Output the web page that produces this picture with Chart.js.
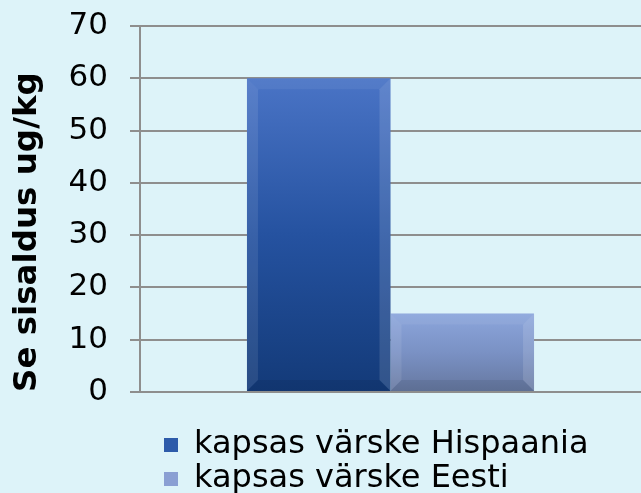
<!DOCTYPE html>
<html><head><meta charset="utf-8">
<script src="https://cdn.jsdelivr.net/npm/chart.js@4/dist/chart.umd.min.js"></script>
<style>html,body{margin:0;padding:0;background:#DDF3F9;} canvas{display:block}</style>
</head><body>
<canvas id="c" width="641" height="493"></canvas>
<script>
// ---- data ----
const categories = [''];
const seriesNames = ['kapsas värske Hispaania', 'kapsas värske Eesti'];
const hispaaniaValues = [60];
const eestiValues = [15];
const yTicks = [0, 10, 20, 30, 40, 50, 60, 70];
const axisTitle = 'Se sisaldus ug/kg';

// ---- styles ----
const FONT = 'DejaVu Sans';
const barGradients = [
  ['#4A74C6', '#2552A0', '#133A78'],
  ['#8CA6DC', '#7A91C4', '#65779F']
];
const legendColors = ['#2D5BAA', '#8A9FD3'];
const gridColor = '#8E8E8E';

function gradientFor(i) {
  return (ctx) => {
    const chart = ctx.chart;
    const ys = chart.scales && chart.scales.y;
    if (!chart.chartArea || !ys || ctx.raw === undefined) return barGradients[i][1];
    const top = ys.getPixelForValue(ctx.raw);
    const bottom = ys.getPixelForValue(0);
    const g = chart.ctx.createLinearGradient(0, top, 0, bottom);
    g.addColorStop(0, barGradients[i][0]);
    g.addColorStop(0.5, barGradients[i][1]);
    g.addColorStop(1, barGradients[i][2]);
    return g;
  };
}

const bevelPlugin = {
  id: 'bevel',
  afterDatasetsDraw(chart) {
    const c = chart.ctx;
    chart.data.datasets.forEach((ds, di) => {
      const meta = chart.getDatasetMeta(di);
      meta.data.forEach(el => {
        const p = el.getProps(['x', 'y', 'base', 'width'], true);
        const l = p.x - p.width / 2, r = p.x + p.width / 2, t = p.y, b = p.base;
        const s = 11;
        const poly = (pts, fill) => {
          c.beginPath(); c.moveTo(pts[0][0], pts[0][1]);
          for (let k = 1; k < pts.length; k++) c.lineTo(pts[k][0], pts[k][1]);
          c.closePath(); c.fillStyle = fill; c.fill();
        };
        c.save();
        poly([[l, t], [l + s, t + s], [l + s, b - s], [l, b]], 'rgba(255,255,255,0.09)');
        poly([[r, t], [r - s, t + s], [r - s, b - s], [r, b]], 'rgba(255,255,255,0.13)');
        poly([[l, t], [r, t], [r - s, t + s], [l + s, t + s]], 'rgba(255,255,255,0.06)');
        poly([[l, b], [r, b], [r - s, b - s], [l + s, b - s]], 'rgba(0,0,0,0.07)');
        c.restore();
      });
    });
  }
};

const legendPlacer = {
  id: 'legendPlacer',
  afterLayout(chart) {
    const lg = chart.legend;
    if (!lg) return;
    const h = lg.height;
    lg.left = 162; lg.right = 641; lg.width = lg.right - lg.left;
    lg.top = 427; lg.bottom = 427 + h;
  }
};

new Chart(document.getElementById('c'), {
  type: 'bar',
  data: {
    labels: categories,
    datasets: [
      { label: seriesNames[0], data: hispaaniaValues, backgroundColor: gradientFor(0), borderWidth: 0 },
      { label: seriesNames[1], data: eestiValues, backgroundColor: gradientFor(1), borderWidth: 0 }
    ]
  },
  options: {
    responsive: false,
    devicePixelRatio: 1,
    animation: false,
    categoryPercentage: 0.573,
    barPercentage: 1,
    layout: { padding: { top: 26, right: -4, bottom: 23, left: 0 } },
    plugins: {
      tooltip: { enabled: false },
      legend: {
        position: 'bottom',
        align: 'start',
        labels: {
          boxWidth: 14, boxHeight: 14, padding: 2, color: '#000',
          font: { family: FONT, size: 32 },
          generateLabels: (chart) => chart.data.datasets.map((ds, i) => ({
            text: ds.label, fillStyle: legendColors[i], strokeStyle: legendColors[i],
            lineWidth: 0, hidden: false, datasetIndex: i
          }))
        }
      }
    },
    scales: {
      x: { display: false },
      y: {
        min: yTicks[0], max: yTicks[yTicks.length - 1],
        ticks: { stepSize: yTicks[1] - yTicks[0], padding: 22, color: '#000', font: { family: FONT, size: 31 } },
        grid: { color: gridColor, lineWidth: 2, tickLength: 10, drawTicks: true },
        border: { color: gridColor, width: 2 },
        title: { display: true, text: axisTitle, align: 'start', color: '#000',
                 font: { family: FONT, size: 32.5, weight: 'bold' }, padding: { top: 8, bottom: 0 } },
        afterFit(scale) { scale.width = 140; scale.paddingTop = 0; scale.paddingBottom = 0; }
      }
    }
  },
  plugins: [bevelPlugin, legendPlacer]
});
</script>
</body></html>
